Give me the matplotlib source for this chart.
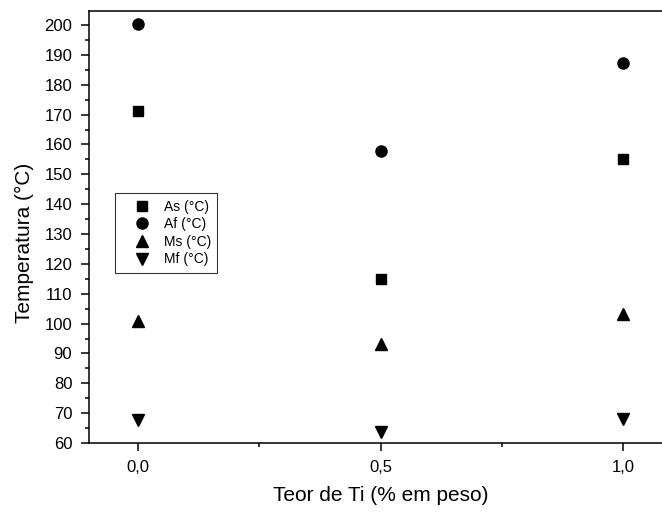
import matplotlib.pyplot as plt
from matplotlib.ticker import MultipleLocator, FixedLocator

plt.rcParams['font.family'] = ['Liberation Sans', 'DejaVu Sans']

# Teor de Ti (% em peso)
ti = [0.0, 0.5, 1.0]
tick_labels = ['0,0', '0,5', '1,0']

# Temperaturas de transformação (°C)
As = [171.2, 115.0, 155.1]
Af = [200.3, 157.9, 187.3]
Ms = [100.9, 93.0, 103.1]
Mf = [67.6, 63.7, 68.2]

fig = plt.figure(figsize=(6.62, 5.12), dpi=100)
ax = fig.add_axes([89 / 662, 69 / 512, 583 / 662, 432 / 512])

ax.plot(ti, As, 's', color='black', markersize=7, label='As (°C)')
ax.plot(ti, Af, 'o', color='black', markersize=8, label='Af (°C)')
ax.plot(ti, Ms, '^', color='black', markersize=8.5, label='Ms (°C)')
ax.plot(ti, Mf, 'v', color='black', markersize=8.5, label='Mf (°C)')

ax.set_xlim(-0.1, 1.1)
ax.set_ylim(60, 204.7)

ax.xaxis.set_major_locator(FixedLocator(ti))
ax.set_xticklabels(tick_labels)
ax.xaxis.set_minor_locator(MultipleLocator(0.25))
ax.yaxis.set_major_locator(MultipleLocator(10))
ax.yaxis.set_minor_locator(MultipleLocator(5))

ax.tick_params(which='both', direction='out', width=1.1, labelsize=12,
               top=False, right=False, pad=6)
ax.tick_params(which='major', length=6)
ax.tick_params(which='minor', length=3)
for sp in ax.spines.values():
    sp.set_linewidth(1.1)

ax.set_xlabel('Teor de Ti (% em peso)', fontsize=15)
ax.set_ylabel('Temperatura (°C)', fontsize=15)
ax.xaxis.set_label_coords(0.5, -0.1)
ax.yaxis.set_label_coords(-0.095, 0.463)

leg = ax.legend(loc='upper left', bbox_to_anchor=(0.044, 0.578),
                borderaxespad=0, fontsize=10, frameon=True, fancybox=False,
                edgecolor='black', labelspacing=0.26, handletextpad=0.1,
                handlelength=3.0, borderpad=0.45, markerscale=1.0)
leg.get_frame().set_linewidth(0.8)

fig.savefig('out.png', dpi=100)
